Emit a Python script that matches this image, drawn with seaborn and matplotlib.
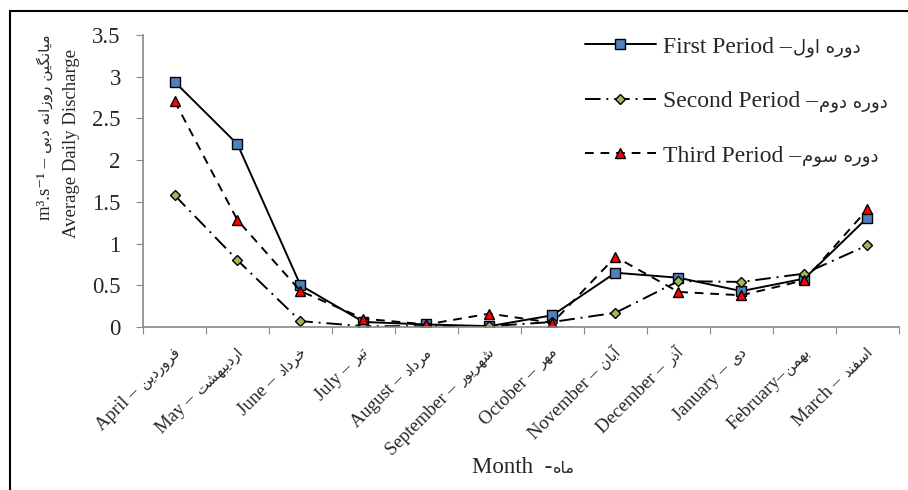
import numpy as np
import pandas as pd
import matplotlib
matplotlib.use('Agg')
import matplotlib.pyplot as plt
from matplotlib.lines import Line2D
from matplotlib.ticker import FuncFormatter
from matplotlib.font_manager import FontProperties
import seaborn as sns

# datos
meses_en = ['April', 'May', 'June', 'July', 'August', 'September', 'October',
            'November', 'December', 'January', 'February', 'March']
meses_fa = ['فروردین', 'اردیبهشت', 'خرداد', 'تیر', 'مرداد', 'شهریور', 'مهر',
            'آبان', 'آذر', 'دی', 'بهمن', 'اسفند']
periodo1 = [2.94, 2.19, 0.50, 0.06, 0.03, 0.01, 0.14, 0.65, 0.59, 0.43, 0.58, 1.31]
periodo2 = [1.58, 0.80, 0.07, 0.01, 0.01, 0.01, 0.06, 0.17, 0.55, 0.54, 0.64, 0.98]
periodo3 = [2.71, 1.28, 0.43, 0.10, 0.03, 0.16, 0.05, 0.84, 0.42, 0.38, 0.56, 1.41]
nombres_en = ['First Period', 'Second Period', 'Third Period']
nombres_fa = ['دوره اول', 'دوره دوم', 'دوره سوم']

# formas de presentacion arabes (aislada, final, inicial, medial)
FORMAS = {
    'ا': ('\uFE8D', '\uFE8E'), 'آ': ('\uFE81', '\uFE82'),
    'د': ('\uFEA9', '\uFEAA'), 'ذ': ('\uFEAB', '\uFEAC'),
    'ر': ('\uFEAD', '\uFEAE'), 'ز': ('\uFEAF', '\uFEB0'),
    'و': ('\uFEED', '\uFEEE'),
    'ب': ('\uFE8F', '\uFE90', '\uFE91', '\uFE92'),
    'ت': ('\uFE95', '\uFE96', '\uFE97', '\uFE98'),
    'خ': ('\uFEA5', '\uFEA6', '\uFEA7', '\uFEA8'),
    'س': ('\uFEB1', '\uFEB2', '\uFEB3', '\uFEB4'),
    'ش': ('\uFEB5', '\uFEB6', '\uFEB7', '\uFEB8'),
    'ف': ('\uFED1', '\uFED2', '\uFED3', '\uFED4'),
    'ل': ('\uFEDD', '\uFEDE', '\uFEDF', '\uFEE0'),
    'م': ('\uFEE1', '\uFEE2', '\uFEE3', '\uFEE4'),
    'ن': ('\uFEE5', '\uFEE6', '\uFEE7', '\uFEE8'),
    'ه': ('\uFEE9', '\uFEEA', '\uFEEB', '\uFEEC'),
    'ی': ('\uFBFC', '\uFBFD', '\uFBFE', '\uFBFF'),
    'گ': ('\uFB92', '\uFB93', '\uFB94', '\uFB95'),
}

def persa(texto):
    # une las letras y las pone en orden visual (matplotlib no lo hace)
    salida = []
    for i, c in enumerate(texto):
        if c not in FORMAS:
            salida.append(c)
            continue
        prev = texto[i - 1] if i > 0 else ''
        sig = texto[i + 1] if i + 1 < len(texto) else ''
        con_prev = prev in FORMAS and len(FORMAS[prev]) == 4
        con_sig = len(FORMAS[c]) == 4 and sig in FORMAS
        f = FORMAS[c]
        if con_prev and con_sig:
            salida.append(f[3])
        elif con_prev:
            salida.append(f[1])
        elif con_sig:
            salida.append(f[2])
        else:
            salida.append(f[0])
    return ''.join(salida)[::-1]

LATIN = ['Liberation Serif', 'DejaVu Sans']
ARABE = ['DejaVu Sans']

sns.set_style('white')
plt.rcParams['font.family'] = LATIN

df = pd.DataFrame({'mes': np.arange(len(meses_en)),
                   'p1': periodo1, 'p2': periodo2, 'p3': periodo3})

fig = plt.figure(figsize=(9.08, 4.90), dpi=100)
ax = fig.add_axes([0.1575, 0.3327, 0.8325, 0.5959])
renderer = fig.canvas.get_renderer()

def ancho(texto, familia, size):
    w, h, d = renderer.get_text_width_height_descent(
        texto, FontProperties(family=familia, size=size), ismath=False)
    return w

estilos = [
    dict(marker='s', markerfacecolor='#4F81BD', markersize=6.5, linestyle='-'),
    dict(marker='D', markerfacecolor='#9BBB59', markersize=5, linestyle=(0, (8, 3, 1, 3))),
    dict(marker='^', markerfacecolor='#FF0000', markersize=6.5, linestyle=(0, (4.5, 3.5))),
]
for col, est, en in zip(['p1', 'p2', 'p3'], estilos, nombres_en):
    sns.lineplot(data=df, x='mes', y=col, ax=ax, color='black', linewidth=1.4,
                 markeredgecolor='black', markeredgewidth=1.0,
                 label=en + ' –', **est)

ax.set_xlim(-0.5, 11.5)
ax.set_ylim(0, 3.5)
ax.set_yticks(np.arange(0, 3.51, 0.5))
ax.yaxis.set_major_formatter(FuncFormatter(lambda v, p: '%g' % v))
ax.set_xticks(np.arange(-0.5, 11.6, 1))
ax.set_xticklabels([])
ax.tick_params(axis='x', length=5, color='#888888', direction='out', bottom=True)
ax.tick_params(axis='y', length=5, color='#888888', direction='out', left=True,
               labelsize=16.5, pad=11)
for s in ['top', 'right']:
    ax.spines[s].set_visible(False)
for s in ['left', 'bottom']:
    ax.spines[s].set_color('#888888')
    ax.spines[s].set_linewidth(1.2)
ax.set_xlabel('')
ax.set_ylabel('')

# etiquetas de meses: parte persa pegada al final, mas pequena
TAM_MES, TAM_MES_FA = 13.5, 10.5
c45 = np.cos(np.pi / 4)
for i, (en, fa) in enumerate(zip(meses_en, meses_fa)):
    fa_vis = persa(fa)
    ax.annotate(fa_vis, xy=(i, 0), xycoords=('data', 'axes fraction'),
                xytext=(6, -26), textcoords='offset pixels', rotation=45,
                rotation_mode='anchor', ha='right', va='baseline',
                family=ARABE, fontsize=TAM_MES_FA)
    txt = (en + '–') if en == 'February' else (en + ' – ')
    d = ancho(fa_vis, ARABE, TAM_MES_FA) + 1
    ax.annotate(txt, xy=(i, 0), xycoords=('data', 'axes fraction'),
                xytext=(6 - d * c45, -26 - d * c45), textcoords='offset pixels',
                rotation=45, rotation_mode='anchor', ha='right', va='baseline',
                fontsize=TAM_MES)

# titulo eje x
fig.text(472 / 908, 1 - 473 / 490, 'Month  -', ha='left', va='baseline', fontsize=16.5)
x_fa = 472 + ancho('Month  -', LATIN, 16.5)
fig.text(x_fa / 908, 1 - 473 / 490, persa('ماه'), ha='left', va='baseline',
         family=ARABE, fontsize=11.5)

# titulo eje y (dos lineas)
fig.text(72 / 908, 1 - 143 / 490, 'Average Daily Discharge', rotation=90,
         ha='center', va='center', fontsize=13.5)
lin1 = 'm³.s⁻¹ – '
fig.text(50 / 908, 1 - 220 / 490, lin1, rotation=90, rotation_mode='anchor',
         ha='left', va='baseline', fontsize=13.5)
y_fa = 220 - ancho(lin1, LATIN, 13.5)
fig.text(50 / 908, 1 - y_fa / 490, persa('میانگین روزانه دبی'), rotation=90,
         rotation_mode='anchor', ha='left', va='baseline', family=ARABE, fontsize=11)

leg = ax.legend(loc='upper left', bbox_to_anchor=(585 / 908, 1 - 36 / 490),
                bbox_transform=fig.transFigure, frameon=False, fontsize=17,
                borderpad=0, borderaxespad=0, handlelength=3.0,
                labelspacing=1.4, handletextpad=0.3)

# texto persa de la leyenda detras de cada etiqueta
fig.canvas.draw()
for t, fa in zip(leg.get_texts(), nombres_fa):
    bb = t.get_window_extent(renderer)
    x0, y0 = t.get_transform().transform(t.get_position())
    fig.text(bb.x1 + 1, y0, persa(fa), transform=None, ha='left', va='baseline',
             family=ARABE, fontsize=13)

# marco de la figura
fig.add_artist(Line2D([10 / 908, 10 / 908], [0, 1 - 11 / 490], color='black', lw=1.5))
fig.add_artist(Line2D([10 / 908, 1], [1 - 11 / 490, 1 - 11 / 490], color='black', lw=1.5))

fig.savefig('out.png', dpi=100)
